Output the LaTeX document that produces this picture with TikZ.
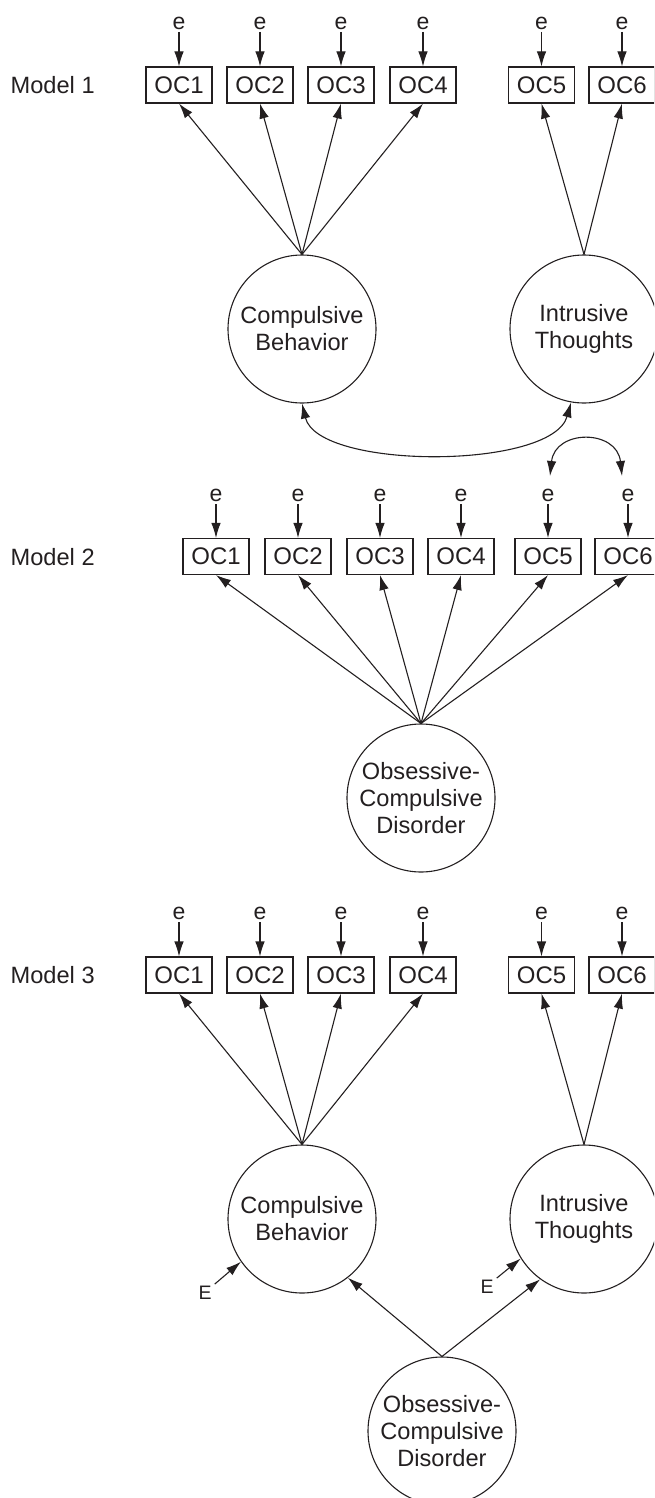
\documentclass[tikz,border=0pt]{standalone}
\usepackage{fontspec}
\setmainfont{Liberation Sans}
\usetikzlibrary{arrows.meta,calc}
\definecolor{ink}{RGB}{35,31,32}
\begin{document}
\begin{tikzpicture}[x=1pt,y=-1pt,
  every node/.style={text=ink},
  obs/.style={draw=ink, line width=1.1pt, rectangle, minimum width=66pt,
    minimum height=36pt, inner sep=0pt, font=\fontsize{24}{28}\selectfont},
  lat/.style={draw=ink, line width=1.1pt, circle, minimum size=148pt,
    inner sep=0pt, align=center, font=\fontsize{23.6}{27}\selectfont},
  err/.style={inner sep=2.5pt, font=\fontsize{23}{27}\selectfont},
  dist/.style={inner sep=0pt, font=\fontsize{19.5}{23}\selectfont},
  lbl/.style={anchor=west, inner sep=0pt, font=\fontsize{23.6}{27}\selectfont},
  conn/.style={draw=ink, line width=1.1pt, -{Latex[length=15pt,width=9.5pt]}},
  dconn/.style={draw=ink, line width=1.1pt,
    {Latex[length=15pt,width=9.5pt]}-{Latex[length=15pt,width=9.5pt]}}
]
\useasboundingbox (0,0) rectangle (654,1498);
\clip (0,0) rectangle (654,1498);

% ---------- Model 1 ----------
\node[lbl] (m1) at (10.5,85) {Model 1};
\foreach \i/\x in {1/179,2/260,3/341,4/423,5/541.5,6/622} {
  \node[obs] (a\i) at (\x,85) {OC\i};
  \node[err] (ae\i) at (\x,23) {e};
  \draw[conn] (ae\i) -- (a\i);
}
\node[lat] (cb1) at (302,329) {Compulsive\\Behavior};
\node[lat] (it1) at (584,329) {Intrusive\\Thoughts};
\foreach \i in {1,...,4} \draw[conn] (cb1.north) -- (a\i.south);
\foreach \i in {5,6} \draw[conn] (it1.north) -- (a\i.south);
\draw[dconn] (cb1.south) .. controls (318,470) and (552,470) .. (it1.-100);

% ---------- Model 2 ----------
\node[lbl] (m2) at (10.5,557) {Model 2};
\foreach \i/\x in {1/216,2/298,3/380,4/461,5/548,6/628} {
  \node[obs] (b\i) at (\x,556.5) {OC\i};
  \node[err] (be\i) at (\x,495) {e};
  \draw[conn] (be\i) -- (b\i);
}
\node[lat] (ocd2) at (421,798) {Obsessive-\\Compulsive\\Disorder};
\foreach \i in {1,...,6} \draw[conn] (ocd2.north) -- (b\i.south);
\coordinate (r5) at ($(be5.north)+(2,-10)$);
\coordinate (r6) at ($(be6.north)+(-6,-10)$);
\draw[dconn] (r5) .. controls ($(r5)+(5,-47)$) and ($(r6)+(-5,-47)$) .. (r6);

% ---------- Model 3 ----------
\node[lbl] (m3) at (10.5,975) {Model 3};
\foreach \i/\x in {1/179,2/260,3/341,4/423,5/541.5,6/622} {
  \node[obs] (c\i) at (\x,975) {OC\i};
  \node[err] (ce\i) at (\x,913) {e};
  \draw[conn] (ce\i) -- (c\i);
}
\node[lat] (cb3) at (302,1219) {Compulsive\\Behavior};
\node[lat] (it3) at (584,1219) {Intrusive\\Thoughts};
\foreach \i in {1,...,4} \draw[conn] (cb3.north) -- (c\i.south);
\foreach \i in {5,6} \draw[conn] (it3.north) -- (c\i.south);
\node[lat] (ocd3) at (442,1431) {Obsessive-\\Compulsive\\Disorder};
\draw[conn] (ocd3.north) -- (cb3.-52);
\draw[conn] (ocd3.north) -- (it3.234);
\node[dist] (ecb) at (205,1293) {E};
\node[dist] (eit) at (487,1287) {E};
\draw[conn] ([xshift=3pt,yshift=2pt]ecb.north east) -- (cb3.215);
\draw[conn] ([xshift=3pt,yshift=2pt]eit.north east) -- (it3.212);
\end{tikzpicture}
\end{document}
